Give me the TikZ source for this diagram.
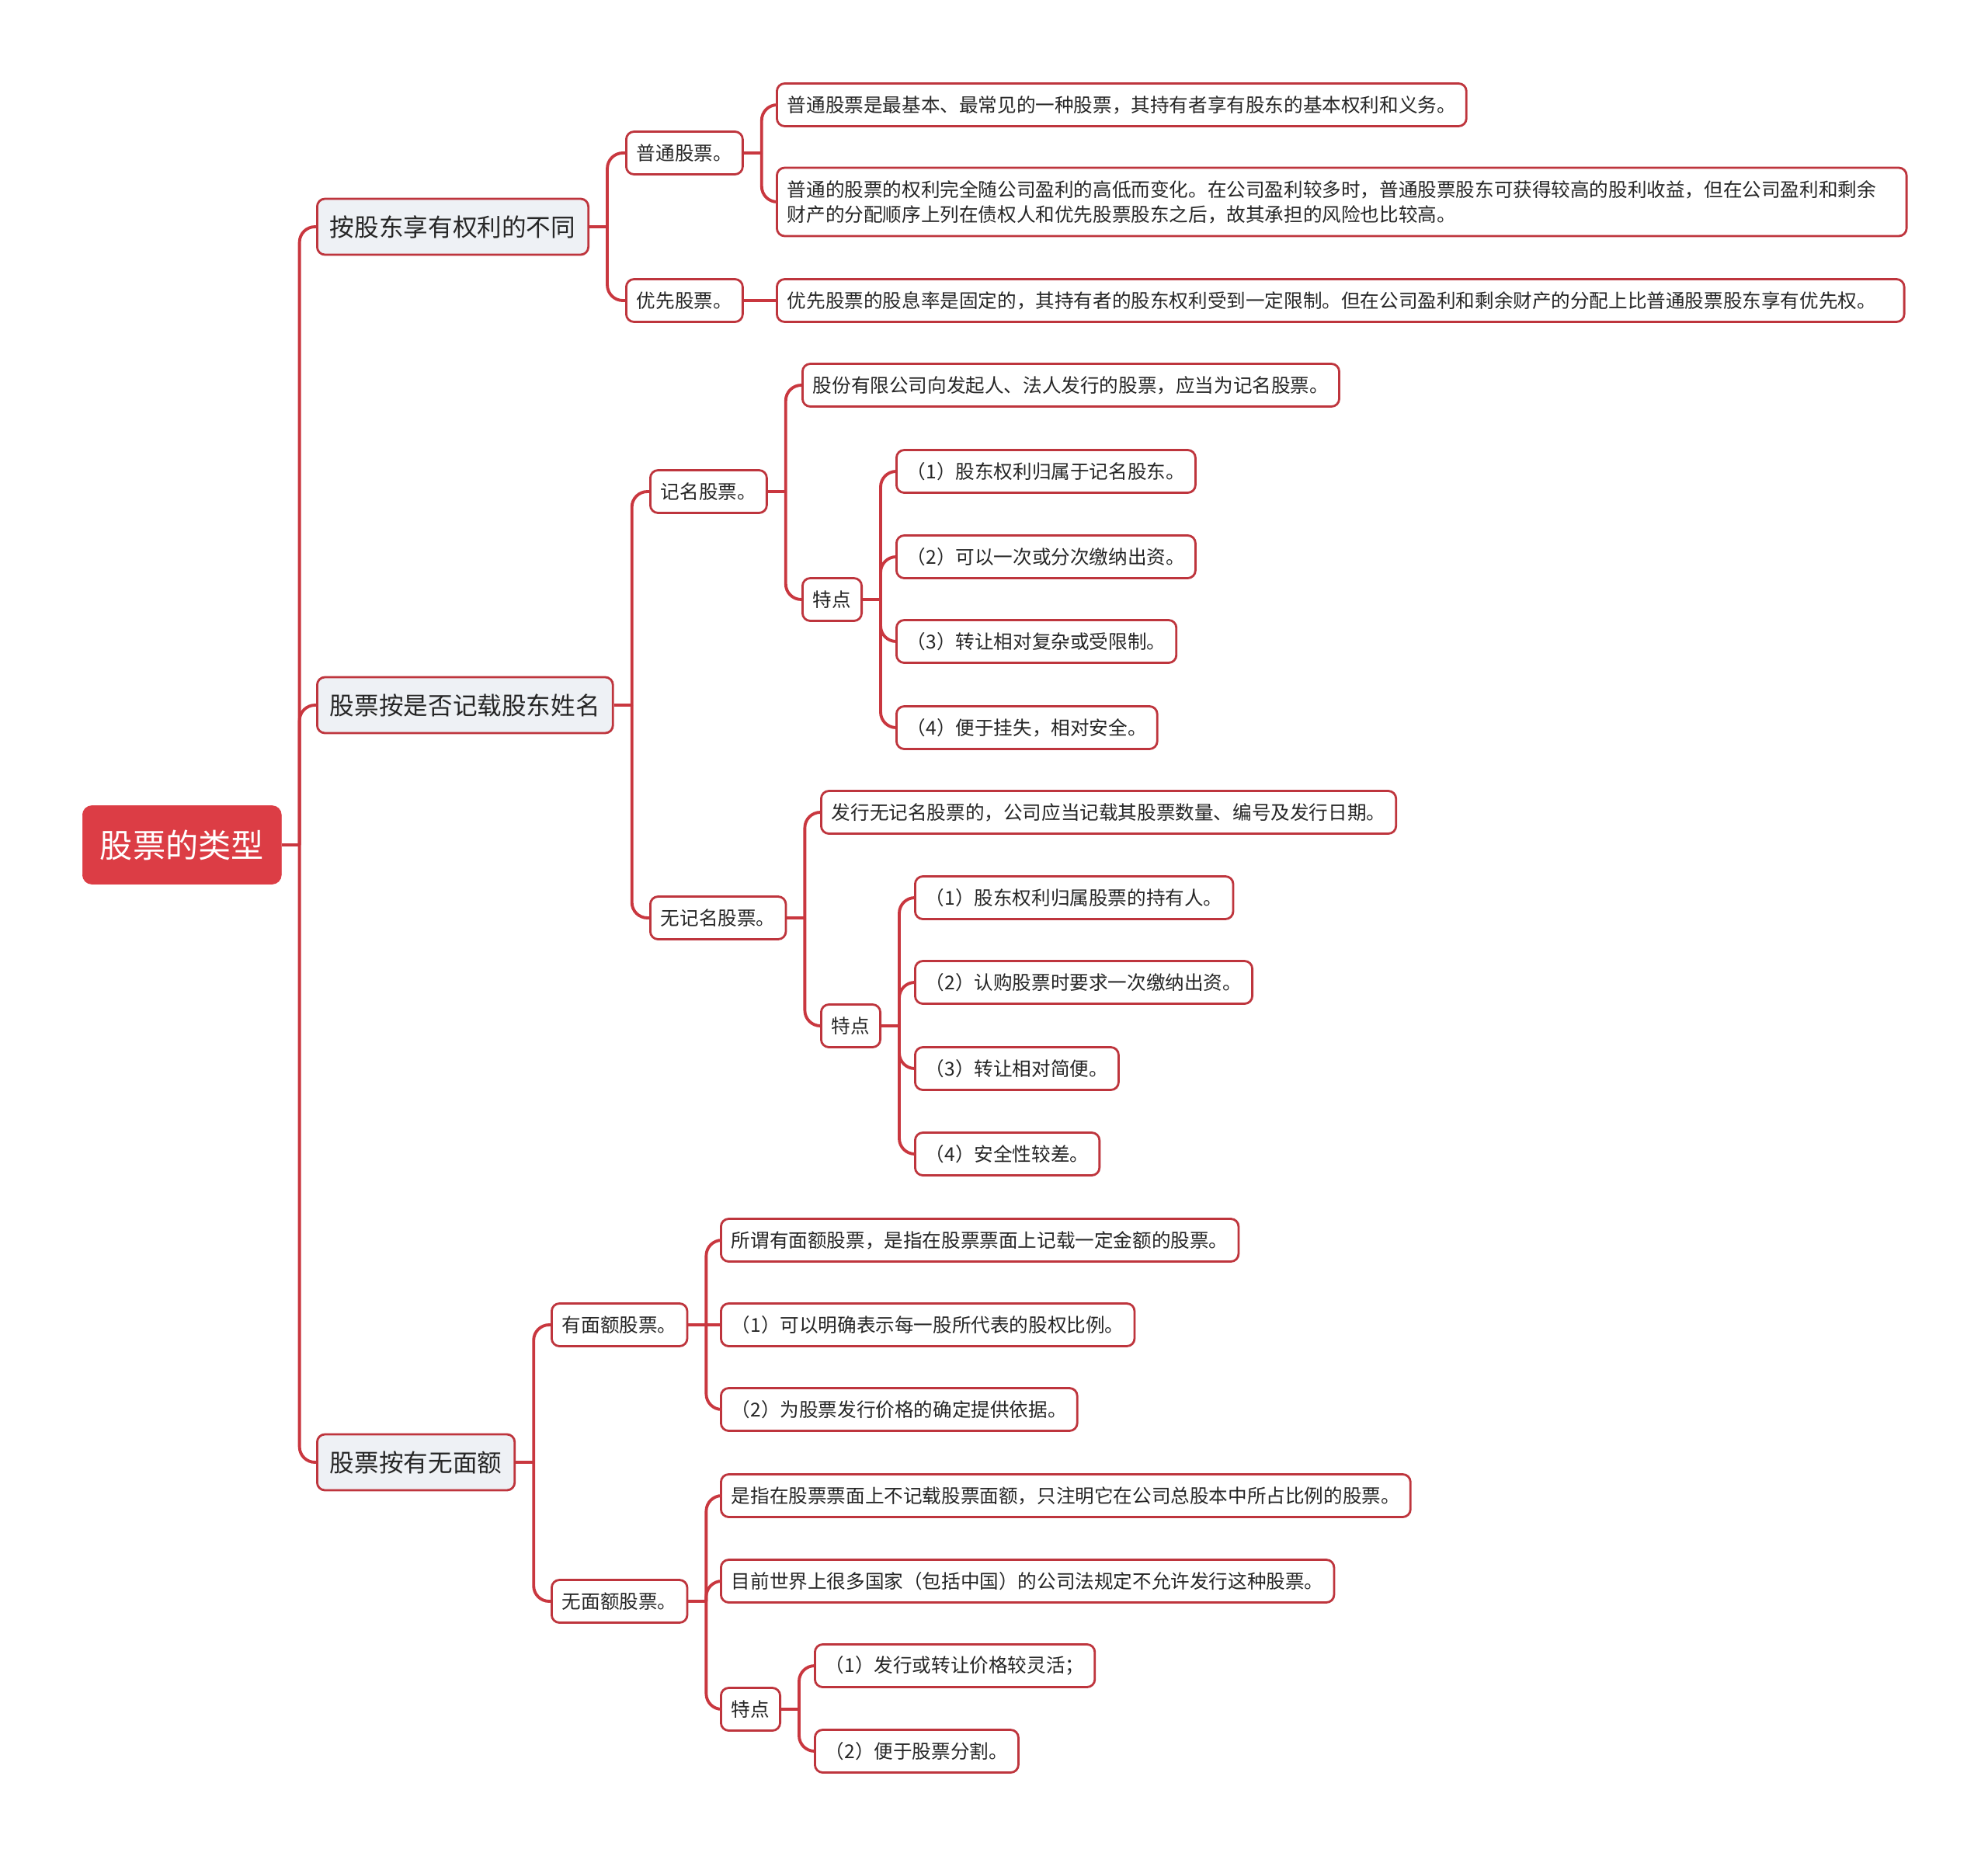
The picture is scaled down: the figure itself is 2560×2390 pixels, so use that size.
\documentclass[tikz,border=0pt]{standalone}
\usepackage{fontspec}
\setmainfont{Noto Sans CJK SC}
\usetikzlibrary{calc}
\definecolor{rootred}{HTML}{DC3D45}
\definecolor{linered}{HTML}{C9373F}
\definecolor{boxred}{HTML}{BE353D}
\definecolor{topicgray}{HTML}{EEF1F5}
\definecolor{inktext}{HTML}{262626}

\begin{document}
\begin{tikzpicture}[x=0.02cm, y=-0.02cm,
    conn/.style={linered, line width=2.2pt, rounded corners=0.4cm},
    rootbox/.style={anchor=west, fill=rootred, draw=rootred, rounded corners=0.24cm,
      text=white, font=\fontsize{24pt}{28pt}\selectfont,
      minimum width=5.12cm, minimum height=2.02cm, inner xsep=0.44cm},
    topicbox/.style={anchor=west, fill=topicgray, draw=boxred, line width=1.6pt,
      rounded corners=0.2cm, text=inktext, font=\fontsize{18pt}{22pt}\selectfont,
      minimum height=1.44cm, inner xsep=0.33cm},
    leafbox/.style={anchor=west, fill=white, draw=boxred, line width=1.6pt,
      rounded corners=0.2cm, text=inktext, font=\fontsize{14pt}{18.2pt}\selectfont,
      minimum height=1.1cm, inner xsep=0.27cm, align=left}]

  \useasboundingbox (0,0) rectangle (2560,2390);

  \node[rootbox] (root) at (106,1088) {股票的类型};

  \node[topicbox] (rights)   at (407,292)  {按股东享有权利的不同};
  \node[topicbox] (naming)   at (407,908)  {股票按是否记载股东姓名};
  \node[topicbox] (parvalue) at (407,1883) {股票按有无面额};

  % by shareholder rights
  \node[leafbox] (common)    at (805,197) {普通股票。};
  \node[leafbox] (preferred) at (805,387) {优先股票。};
  \node[leafbox] (commonA) at (999,135) {普通股票是最基本、最常见的一种股票，其持有者享有股东的基本权利和义务。};
  \node[leafbox, minimum height=1.76cm, text width=28.56cm] (commonB) at (999,260)
    {普通的股票的权利完全随公司盈利的高低而变化。在公司盈利较多时，普通股票股东可获得较高的股利收益，但在公司盈利和剩余\\财产的分配顺序上列在债权人和优先股票股东之后，故其承担的风险也比较高。};
  \node[leafbox, text width=28.5cm] (prefA) at (999,387) {优先股票的股息率是固定的，其持有者的股东权利受到一定限制。但在公司盈利和剩余财产的分配上比普通股票股东享有优先权。};

  % by name
  \node[leafbox] (registered) at (836,633)  {记名股票。};
  \node[leafbox] (bearer)     at (836,1182) {无记名股票。};
  \node[leafbox] (regA)    at (1032,496) {股份有限公司向发起人、法人发行的股票，应当为记名股票。};
  \node[leafbox] (regFeat) at (1032,772) {特点};
  \node[leafbox] (regF1) at (1153,607) {（1）股东权利归属于记名股东。};
  \node[leafbox] (regF2) at (1153,717) {（2）可以一次或分次缴纳出资。};
  \node[leafbox] (regF3) at (1153,826) {（3）转让相对复杂或受限制。};
  \node[leafbox] (regF4) at (1153,937) {（4）便于挂失，相对安全。};
  \node[leafbox] (bearA)    at (1056,1046) {发行无记名股票的，公司应当记载其股票数量、编号及发行日期。};
  \node[leafbox] (bearFeat) at (1056,1321) {特点};
  \node[leafbox] (bearF1) at (1177,1156) {（1）股东权利归属股票的持有人。};
  \node[leafbox] (bearF2) at (1177,1265) {（2）认购股票时要求一次缴纳出资。};
  \node[leafbox] (bearF3) at (1177,1376) {（3）转让相对简便。};
  \node[leafbox] (bearF4) at (1177,1486) {（4）安全性较差。};

  % by par value
  \node[leafbox] (parstock)   at (709,1706) {有面额股票。};
  \node[leafbox] (noparstock) at (709,2062) {无面额股票。};
  \node[leafbox] (parA) at (927,1597) {所谓有面额股票，是指在股票票面上记载一定金额的股票。};
  \node[leafbox] (parB) at (927,1706) {（1）可以明确表示每一股所代表的股权比例。};
  \node[leafbox] (parC) at (927,1815) {（2）为股票发行价格的确定提供依据。};
  \node[leafbox] (noparA) at (927,1926) {是指在股票票面上不记载股票面额，只注明它在公司总股本中所占比例的股票。};
  \node[leafbox] (noparB) at (927,2036) {目前世界上很多国家（包括中国）的公司法规定不允许发行这种股票。};
  \node[leafbox] (noparFeat) at (927,2201) {特点};
  \node[leafbox] (noparF1) at (1048,2145) {（1）发行或转让价格较灵活；};
  \node[leafbox] (noparF2) at (1048,2255) {（2）便于股票分割。};

  \foreach \p/\cs in {root/{rights,naming,parvalue},
      rights/{common,preferred}, common/{commonA,commonB},
      naming/{registered,bearer}, registered/{regA,regFeat},
      regFeat/{regF1,regF2,regF3,regF4}, bearer/{bearA,bearFeat},
      bearFeat/{bearF1,bearF2,bearF3,bearF4},
      parvalue/{parstock,noparstock}, parstock/{parA,parC},
      noparstock/{noparA,noparB,noparFeat}, noparFeat/{noparF1,noparF2}}{
    \draw[conn] (\p.east) -- ++(23,0) coordinate (j\p);
    \foreach \c in \cs {
      \draw[conn] (j\p) |- (\c.west);
    }
  }
  \draw[conn] (preferred.east) -- (prefA.west);
  \draw[conn] (parstock.east) -- (parB.west);

\end{tikzpicture}
\end{document}
